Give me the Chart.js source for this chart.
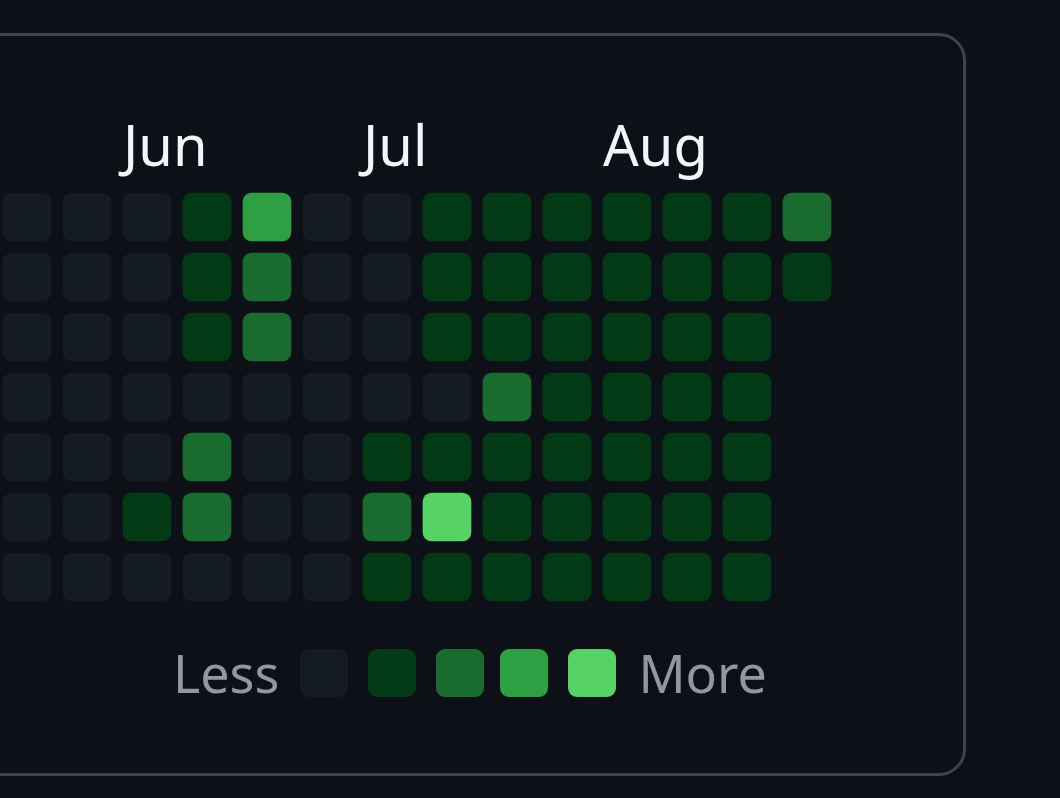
<!DOCTYPE html>
<html lang="en">
<head>
    <meta charset="UTF-8">
    <title>Contribution heatmap</title>
    <script src="https://cdn.jsdelivr.net/npm/chart.js"></script>
    <style>
        body {
            margin: 0;
            width: 1060px;
            height: 798px;
            background: #0d1117;
            overflow: hidden;
            position: relative;
            font-family: 'Noto Sans', sans-serif;
        }
        .panel {
            position: absolute;
            left: -40px;
            top: 33px;
            width: 1006px;
            height: 743px;
            box-sizing: border-box;
            border: 3px solid #3d444d;
            border-radius: 27px;
        }
        .chart-box {
            position: absolute;
            left: 0;
            top: 0;
            width: 1060px;
            height: 798px;
        }
        .legend {
            position: absolute;
            left: 173px;
            top: 649px;
            height: 48px;
            display: flex;
            align-items: center;
            color: #9198a1;
            font-size: 52px;
            line-height: 48px;
        }
        .legend .sw {
            width: 48px;
            height: 48px;
            border-radius: 9px;
        }
    </style>
</head>
<body>
    <div class="panel"></div>
    <div class="chart-box">
        <canvas id="heatmap"></canvas>
    </div>
    <div class="legend" id="legend"></div>

    <script>
        // --- datos: nivel de contribución por día (fila) y semana (columna) ---
        const weeks = [0, 1, 2, 3, 4, 5, 6, 7, 8, 9, 10, 11, 12, 13];
        const monthLabels = ['Jun', 'Jul', 'Aug'];
        const monthStartWeek = [2, 6, 10];

        const day0 = [0, 0, 0, 1, 3, 0, 0, 1, 1, 1, 1, 1, 1, 2];
        const day1 = [0, 0, 0, 1, 2, 0, 0, 1, 1, 1, 1, 1, 1, 1];
        const day2 = [0, 0, 0, 1, 2, 0, 0, 1, 1, 1, 1, 1, 1];
        const day3 = [0, 0, 0, 0, 0, 0, 0, 0, 2, 1, 1, 1, 1];
        const day4 = [0, 0, 0, 2, 0, 0, 1, 1, 1, 1, 1, 1, 1];
        const day5 = [0, 0, 1, 2, 0, 0, 2, 4, 1, 1, 1, 1, 1];
        const day6 = [0, 0, 0, 0, 0, 0, 1, 1, 1, 1, 1, 1, 1];
        const days = [day0, day1, day2, day3, day4, day5, day6];

        const levelColors = ['#151b23', '#033a16', '#196c2e', '#2ea043', '#56d364'];

        // --- un dataset por fila (día de la semana) ---
        const datasets = days.map((levels, row) => ({
            data: levels.map((lvl, col) => ({ x: weeks[col], y: [row - 0.4, row + 0.4], level: lvl })),
            backgroundColor: ctx => levelColors[ctx.raw ? ctx.raw.level : 0],
            borderRadius: 9,
            borderSkipped: false,
            barThickness: 48,
            grouped: false
        }));

        Chart.defaults.font.family = "'Noto Sans', sans-serif";

        new Chart(document.getElementById('heatmap'), {
            type: 'bar',
            data: { datasets: datasets },
            options: {
                responsive: true,
                maintainAspectRatio: false,
                animation: false,
                layout: { padding: { top: 0, left: 0, right: 223, bottom: 191 } },
                plugins: {
                    legend: { display: false },
                    tooltip: { enabled: false }
                },
                scales: {
                    x: {
                        type: 'linear',
                        position: 'top',
                        offset: false,
                        min: -0.45,
                        max: 13.5,
                        grid: { display: false, drawTicks: false, offset: false },
                        border: { display: false },
                        afterFit: scale => {
                            scale.height = 187;
                            // sin relleno lateral por las etiquetas
                            scale.paddingLeft = 0;
                            scale.paddingRight = 0;
                        },
                        afterBuildTicks: scale => {
                            scale.ticks = monthStartWeek.map(w => ({ value: w - 0.4 }));
                        },
                        ticks: {
                            autoSkip: false,
                            maxRotation: 0,
                            align: 'start',
                            padding: 3,
                            color: '#f0f6fc',
                            font: { size: 56 },
                            callback: (value, index) => monthLabels[index]
                        }
                    },
                    y: {
                        type: 'linear',
                        display: false,
                        reverse: true,
                        min: -0.5,
                        max: 6.5
                    }
                }
            }
        });

        // leyenda Less ... More
        const legend = document.getElementById('legend');
        const gaps = [20, 20, 16, 20, 22];
        legend.innerHTML = '<span style="margin-right:21px">Less</span>' +
            levelColors.map((c, i) => '<div class="sw" style="background:' + c + ';margin-right:' + gaps[i] + 'px"></div>').join('') +
            '<span>More</span>';
    </script>
</body>
</html>
